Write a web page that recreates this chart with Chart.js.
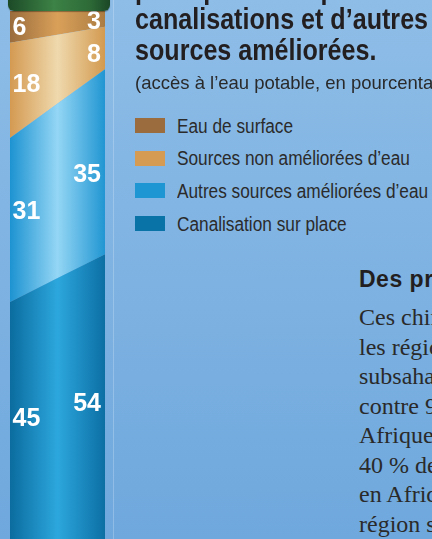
<!DOCTYPE html>
<html lang="fr">
<head>
<meta charset="utf-8">
<script src="https://cdn.jsdelivr.net/npm/chart.js@4/dist/chart.umd.min.js"></script>
<style>
  html, body { margin: 0; padding: 0; width: 432px; height: 539px; overflow: hidden; }
  body { position: relative; background: linear-gradient(#8ebde7, #6fa8dd); font-family: "Liberation Sans", Arial, sans-serif; }
  #bottle { position: absolute; left: 0; top: 0; }
  #cap { position: absolute; left: 8px; top: -5px; width: 102px; height: 16px; border-radius: 0 0 6px 6px;
         background: linear-gradient(90deg, #1c4a27, #3d8246 45%, #2d6a37 80%, #1b4726); box-shadow: 0 1px 1px rgba(0,0,0,.35); }
  #rule { position: absolute; left: 113px; top: 0; width: 1px; height: 539px; background: rgba(255,255,255,.22); }
  .title { position: absolute; left: 135px; top: -26px; font: bold 30px "Liberation Sans", sans-serif;
           line-height: 30.3px; color: #231f20; white-space: nowrap; transform: scaleX(0.837); transform-origin: 0 0; }
  .sub { position: absolute; left: 135px; top: 73.5px; font-size: 18.5px; line-height: 18px; color: #2a2a2a; white-space: nowrap; }
  #legend { position: absolute; left: 135px; top: 110.5px; }
  #legend div { position: relative; height: 32.7px; line-height: 32.7px; white-space: nowrap;
                font: 20px "Liberation Sans", sans-serif; color: #2b2b2b; }
  #legend .box { position: absolute; left: 0; top: 7.5px; width: 30px; height: 15px; }
  #legend .txt { position: absolute; left: 42px; top: 4px; transform: scaleX(0.862); transform-origin: 0 0; }
  .head { position: absolute; left: 359px; top: 269px; font: bold 23px "Liberation Sans", sans-serif; line-height: 21px;
          letter-spacing: 0.5px; color: #231f20; white-space: nowrap; }
  .body { position: absolute; left: 359px; top: 303px; font: 24px "Liberation Serif", serif; line-height: 29.5px; color: #2a2a2a; white-space: nowrap; }
</style>
</head>
<body>
<canvas id="bottle" width="115" height="541"></canvas>
<div id="cap"></div>
<div id="rule"></div>
<div class="title">principalement par les<br>canalisations et d’autres<br>sources améliorées.</div>
<div class="sub">(accès à l’eau potable, en pourcentage)</div>
<div id="legend"></div>
<div class="head">Des progrès</div>
<div class="body">Ces chiffres<br>les régions<br>subsaharienne<br>contre 9<br>Afrique<br>40 % de<br>en Afrique<br>région s</div>
<script>
// two columns of the bottle, left and right
const categories = ["gauche", "droite"];
// bottom to top
const seriesNames = ["Canalisation sur place", "Autres sources améliorées d’eau", "Sources non améliorées d’eau", "Eau de surface"];
const canalisation = [45, 54];
const autresAmeliorees = [31, 35];
const nonAmeliorees = [18, 8];
const eauSurface = [6, 3];

const swatch = ["#0972a6", "#1d96d3", "#d69b52", "#9b6c3d"];
// cylinder shading, left edge -> middle -> right edge
const shade = [
  ["#0b6c9f", "#2ca7dd", "#0c6fa4"],
  ["#1d93d1", "#94d6f5", "#2196d2"],
  ["#d49a52", "#efd9ad", "#d39a50"],
  ["#9a6c3c", "#d9a059", "#ab7c42"],
];

const values = [canalisation, autresAmeliorees, nonAmeliorees, eauSurface];

function cylinder(i) {
  return (c) => {
    const area = c.chart.chartArea;
    if (!area) return swatch[i];
    const g = c.chart.ctx.createLinearGradient(area.left, 0, area.right, 0);
    g.addColorStop(0, shade[i][0]);
    g.addColorStop(0.5, shade[i][1]);
    g.addColorStop(1, shade[i][2]);
    return g;
  };
}

// white numbers inside each band
const valueLabels = {
  id: "valueLabels",
  afterDatasetsDraw(chart) {
    const ctx = chart.ctx;
    const area = chart.chartArea;
    const size = 25;
    ctx.save();
    ctx.font = `bold ${size}px "Liberation Sans", Arial, sans-serif`;
    ctx.fillStyle = "#fff";
    ctx.textBaseline = "alphabetic";
    chart.data.datasets.forEach((ds, i) => {
      const top = chart.getDatasetMeta(i).data;
      const below = i > 0 ? chart.getDatasetMeta(i - 1).data : null;
      ds.data.forEach((v, j) => {
        const text = String(v);
        const w = ctx.measureText(text).width;
        const x = j === 0 ? area.left + 2.5 : area.right - 4;
        const cx = j === 0 ? x + w / 2 : x - w / 2;
        const t = (cx - area.left) / area.width;
        const yAt = (pts) => pts[0].y + (pts[1].y - pts[0].y) * t;
        const y0 = yAt(top);
        const y1 = below ? yAt(below) : area.bottom;
        ctx.textAlign = j === 0 ? "left" : "right";
        ctx.fillText(text, x, (y0 + y1) / 2 + size * 0.358);
      });
    });
    ctx.restore();
  },
};

new Chart(document.getElementById("bottle"), {
  type: "line",
  data: {
    labels: categories,
    datasets: values.map((d, i) => ({
      label: seriesNames[i],
      data: d,
      fill: i === 0 ? "origin" : "-1",
      backgroundColor: cylinder(i),
      borderWidth: 0,
      pointRadius: 0,
      tension: 0,
    })),
  },
  options: {
    responsive: false,
    devicePixelRatio: 1,
    animation: false,
    layout: { padding: { left: 10, right: 10, top: 11, bottom: 1 } },
    plugins: { legend: { display: false }, tooltip: { enabled: false } },
    scales: {
      x: { display: false, offset: false },
      y: { display: false, stacked: true, min: 0, max: 100 },
    },
  },
  plugins: [valueLabels],
});

// legend, top band first
const legend = document.getElementById("legend");
for (let i = seriesNames.length - 1; i >= 0; i--) {
  const row = document.createElement("div");
  row.innerHTML = `<span class="box" style="background:${swatch[i]}"></span><span class="txt">${seriesNames[i]}</span>`;
  legend.appendChild(row);
}
</script>
</body>
</html>
